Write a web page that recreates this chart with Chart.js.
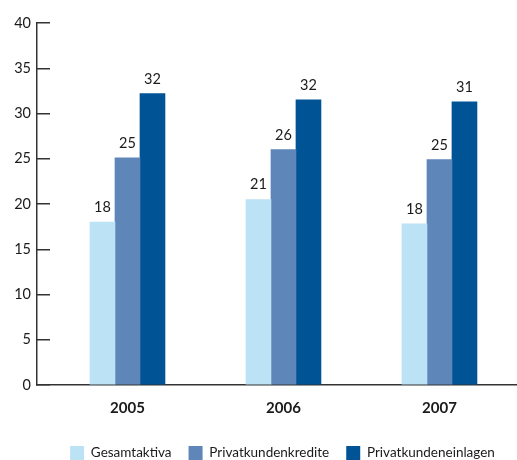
<!DOCTYPE html>
<html><head><meta charset="utf-8">
<script src="https://cdn.jsdelivr.net/npm/chart.js@4/dist/chart.umd.min.js"></script>
<style>html,body{margin:0;padding:0;background:#fff}#wrap{width:517px;height:460px}</style>
</head><body><div id="wrap"><canvas id="c" width="517" height="460"></canvas></div>
<script>
const years = [2005, 2006, 2007];
const seriesNames = ['Gesamtaktiva', 'Privatkundenkredite', 'Privatkundeneinlagen'];
const gesamtaktiva = [18.0, 20.5, 17.8];
const privatkundenkredite = [25.1, 26.0, 24.9];
const privatkundeneinlagen = [32.2, 31.5, 31.3];
const labelsGesamtaktiva = ['18', '21', '18'];
const labelsKredite = ['25', '26', '25'];
const labelsEinlagen = ['32', '32', '31'];
const yTickValues = [0, 5, 10, 15, 20, 25, 30, 35, 40];

const colors = ['#bce2f6', '#5e86b8', '#005496'];
const FONT = 'Lato, "Open Sans", sans-serif';

function pts(vals) { return vals.map((v, i) => ({ x: years[i], y: v })); }

const valueLabels = {
  id: 'valueLabels',
  afterDatasetsDraw(chart) {
    const ctx = chart.ctx;
    ctx.save();
    ctx.font = '14.5px ' + FONT;
    ctx.fillStyle = '#1a1a1a';
    ctx.textAlign = 'center';
    ctx.textBaseline = 'alphabetic';
    chart.data.datasets.forEach((ds, di) => {
      const meta = chart.getDatasetMeta(di);
      meta.data.forEach((el, i) => {
        ctx.fillText(ds.valueLabels[i], el.x, el.y - 10);
      });
    });
    ctx.restore();
  }
};

const legendTweak = {
  id: 'legendTweak',
  beforeLayout(chart) {
    const lg = chart.legend;
    if (lg && !lg._tweaked) {
      const orig = lg.fit.bind(lg);
      lg.fit = function () { orig(); this.height -= 10; };
      lg._tweaked = true;
    }
  },
  afterLayout(chart) {
    if (chart.legend) { chart.legend.left += 24; chart.legend.right += 24; }
  }
};

new Chart(document.getElementById('c'), {
  type: 'bar',
  data: {
    datasets: [
      { label: seriesNames[0], data: pts(gesamtaktiva), backgroundColor: colors[0], valueLabels: labelsGesamtaktiva },
      { label: seriesNames[1], data: pts(privatkundenkredite), backgroundColor: colors[1], valueLabels: labelsKredite },
      { label: seriesNames[2], data: pts(privatkundeneinlagen), backgroundColor: colors[2], valueLabels: labelsEinlagen }
    ]
  },
  options: {
    responsive: false,
    animation: false,
    events: [],
    layout: { padding: { top: 23, right: 0, bottom: 0, left: 0 } },
    datasets: { bar: { barThickness: 25 } },
    plugins: {
      legend: {
        position: 'bottom',
        labels: {
          boxWidth: 14, boxHeight: 14, padding: 17,
          color: '#1a1a1a',
          font: { family: FONT, size: 13.5 }
        }
      },
      tooltip: { enabled: false }
    },
    scales: {
      x: {
        type: 'linear',
        offset: false,
        min: 2004.42,
        max: 2007.497,
        afterBuildTicks: s => { s.ticks = years.map(v => ({ value: v })); },
        afterFit: s => { s.height -= 2; },
        grid: { display: false, drawTicks: false },
        border: { display: true, color: '#333', width: 1.5 },
        ticks: {
          padding: 14,
          color: '#1a1a1a',
          font: { family: FONT, size: 15, weight: 'bold' },
          callback: v => String(v)
        }
      },
      y: {
        min: 0, max: 40,
        afterBuildTicks: s => { s.ticks = yTickValues.map(v => ({ value: v })); },
        afterFit: s => { s.width = 37; s.paddingTop = 0; s.paddingBottom = 0; },
        grid: { drawOnChartArea: false, drawTicks: true, tickLength: -13, color: '#333', lineWidth: 1.5 },
        border: { display: true, color: '#333', width: 1.5 },
        ticks: {
          padding: 19,
          color: '#1a1a1a',
          font: { family: FONT, size: 14.5 }
        }
      }
    }
  },
  plugins: [valueLabels, legendTweak]
});
</script></body></html>
